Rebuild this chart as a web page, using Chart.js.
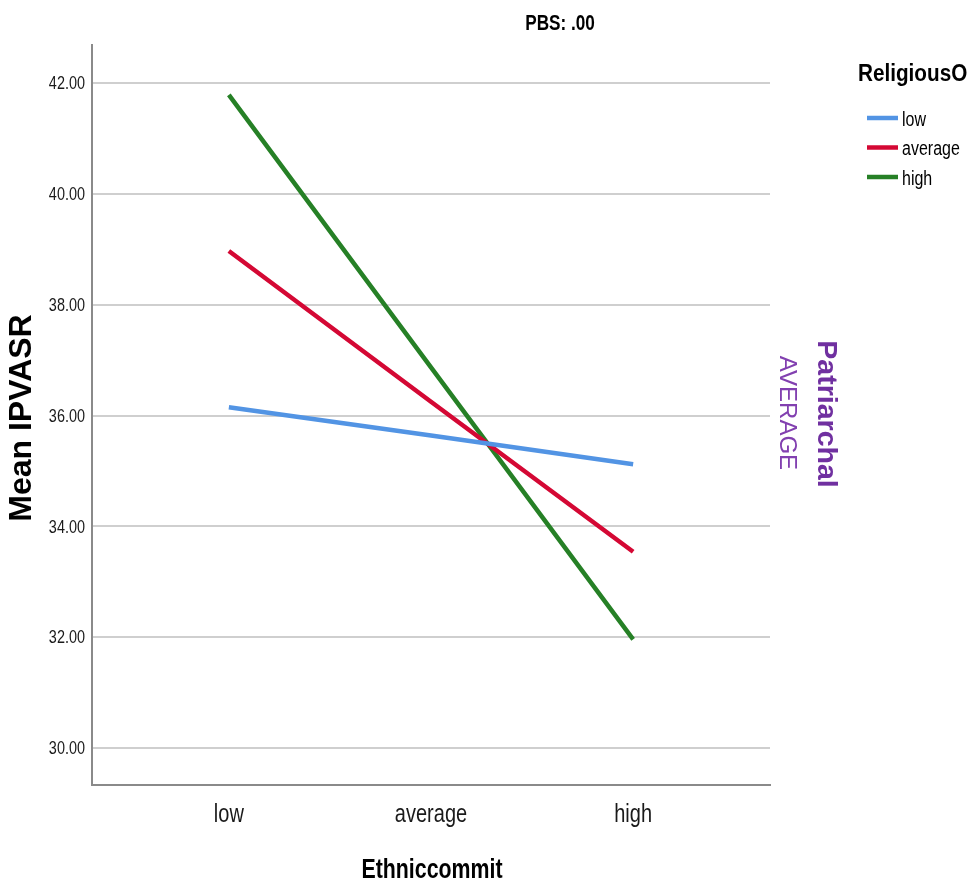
<!DOCTYPE html>
<html>
<head>
    <meta charset="utf-8" />
    <title>PBS: .00</title>
    <script src="https://cdn.jsdelivr.net/npm/chart.js"></script>
    <style>
        body { margin: 0; background: #fff; }
    </style>
</head>
<body>
    <canvas id="myChart" width="977" height="888"></canvas>

    <script>
        // data
        const categories = ['low', 'average', 'high'];
        const seriesNames = ['low', 'average', 'high'];
        const lowValues = [36.15, 35.64, 35.12];
        const averageValues = [38.97, 36.25, 33.54];
        const highValues = [41.79, 36.87, 31.96];
        const yTicks = [30, 32, 34, 36, 38, 40, 42];

        const colors = ['rgb(82, 148, 228)', 'rgb(212, 8, 52)', 'rgb(38, 128, 38)'];
        const FONT = '"Liberation Sans", Arial, sans-serif';

        function toPoints(vals) {
            return vals.map(function (v, i) { return { x: i, y: v }; });
        }

        // condensed text (SPSS export looks squeezed): scale horizontally around the anchor
        function narrowText(ctx, txt, x, y, font, align, squeeze) {
            ctx.save();
            ctx.font = font;
            ctx.textAlign = align;
            ctx.translate(x, y);
            ctx.scale(squeeze, 1);
            ctx.fillText(txt, 0, 0);
            ctx.restore();
        }

        const data = {
            datasets: [lowValues, averageValues, highValues].map(function (vals, i) {
                return {
                    label: seriesNames[i],
                    data: toPoints(vals),
                    borderColor: colors[i],
                    backgroundColor: colors[i],
                    borderWidth: 4.5,
                    pointRadius: 0,
                    tension: 0
                };
            })
        };

        // tick labels, titles, legend and the side labels
        const textPlugin = {
            id: 'texts',
            afterDraw(chart) {
                const ctx = chart.ctx;
                const xs = chart.scales.x, ys = chart.scales.y;
                ctx.save();
                ctx.fillStyle = '#1a1a1a';
                ctx.textBaseline = 'middle';

                yTicks.forEach(function (v) {
                    narrowText(ctx, v.toFixed(2), 85, ys.getPixelForValue(v) + 1, '19px ' + FONT, 'right', 0.76);
                });
                categories.forEach(function (c, i) {
                    narrowText(ctx, c, xs.getPixelForValue(i), 815, '25px ' + FONT, 'center', 0.8);
                });

                ctx.fillStyle = '#000';
                narrowText(ctx, 'PBS: .00', 560, 24, 'bold 22px ' + FONT, 'center', 0.78);
                narrowText(ctx, 'Ethniccommit', 432, 871, 'bold 27px ' + FONT, 'center', 0.79);

                ctx.textAlign = 'center';
                ctx.save();
                ctx.translate(22, 418);
                ctx.rotate(-Math.PI / 2);
                ctx.font = 'bold 32px ' + FONT;
                ctx.fillText('Mean IPVASR', 0, 0);
                ctx.restore();

                ctx.save();
                ctx.translate(826, 414);
                ctx.rotate(Math.PI / 2);
                ctx.fillStyle = 'rgb(112, 48, 160)';
                ctx.font = 'bold 28.5px ' + FONT;
                ctx.fillText('Patriarchal', 0, 0);
                ctx.restore();

                ctx.save();
                ctx.translate(787, 413);
                ctx.rotate(Math.PI / 2);
                ctx.fillStyle = 'rgb(130, 64, 176)';
                ctx.font = '24px ' + FONT;
                ctx.fillText('AVERAGE', 0, 0);
                ctx.restore();

                // legend
                narrowText(ctx, 'ReligiousO', 858, 75, 'bold 23px ' + FONT, 'left', 0.9);
                chart.data.datasets.forEach(function (ds, i) {
                    const y = 118 + i * 29.5;
                    ctx.strokeStyle = ds.borderColor;
                    ctx.lineWidth = 4.5;
                    ctx.beginPath();
                    ctx.moveTo(867, y);
                    ctx.lineTo(898, y);
                    ctx.stroke();
                    ctx.fillStyle = '#000';
                    narrowText(ctx, ds.label, 902, y + 2, '20px ' + FONT, 'left', 0.8);
                });
                ctx.restore();
            }
        };

        const config = {
            type: 'line',
            data,
            options: {
                responsive: false,
                animation: false,
                layout: { padding: { top: 45, right: 207, left: 0, bottom: 0 } },
                plugins: { legend: { display: false }, title: { display: false }, tooltip: { enabled: false } },
                scales: {
                    x: {
                        type: 'linear',
                        min: -0.677,
                        max: 2.677,
                        afterBuildTicks: function (axis) {
                            axis.ticks = categories.map(function (c, i) { return { value: i }; });
                        },
                        afterFit: function (axis) { axis.height = 103; },
                        grid: { display: false, drawTicks: false },
                        border: { display: true, color: '#8a8a8a', width: 2 },
                        ticks: { display: false }
                    },
                    y: {
                        min: 29.33,
                        max: 42.69,
                        afterBuildTicks: function (axis) {
                            axis.ticks = yTicks.map(function (v) { return { value: v }; });
                        },
                        afterFit: function (axis) { axis.width = 92; },
                        grid: { color: '#cfcfcf', lineWidth: 2, drawTicks: false },
                        border: { display: true, color: '#8a8a8a', width: 2 },
                        ticks: { display: false }
                    }
                }
            },
            plugins: [textPlugin]
        };

        var myChart = new Chart(document.getElementById('myChart'), config);
    </script>
</body>
</html>
